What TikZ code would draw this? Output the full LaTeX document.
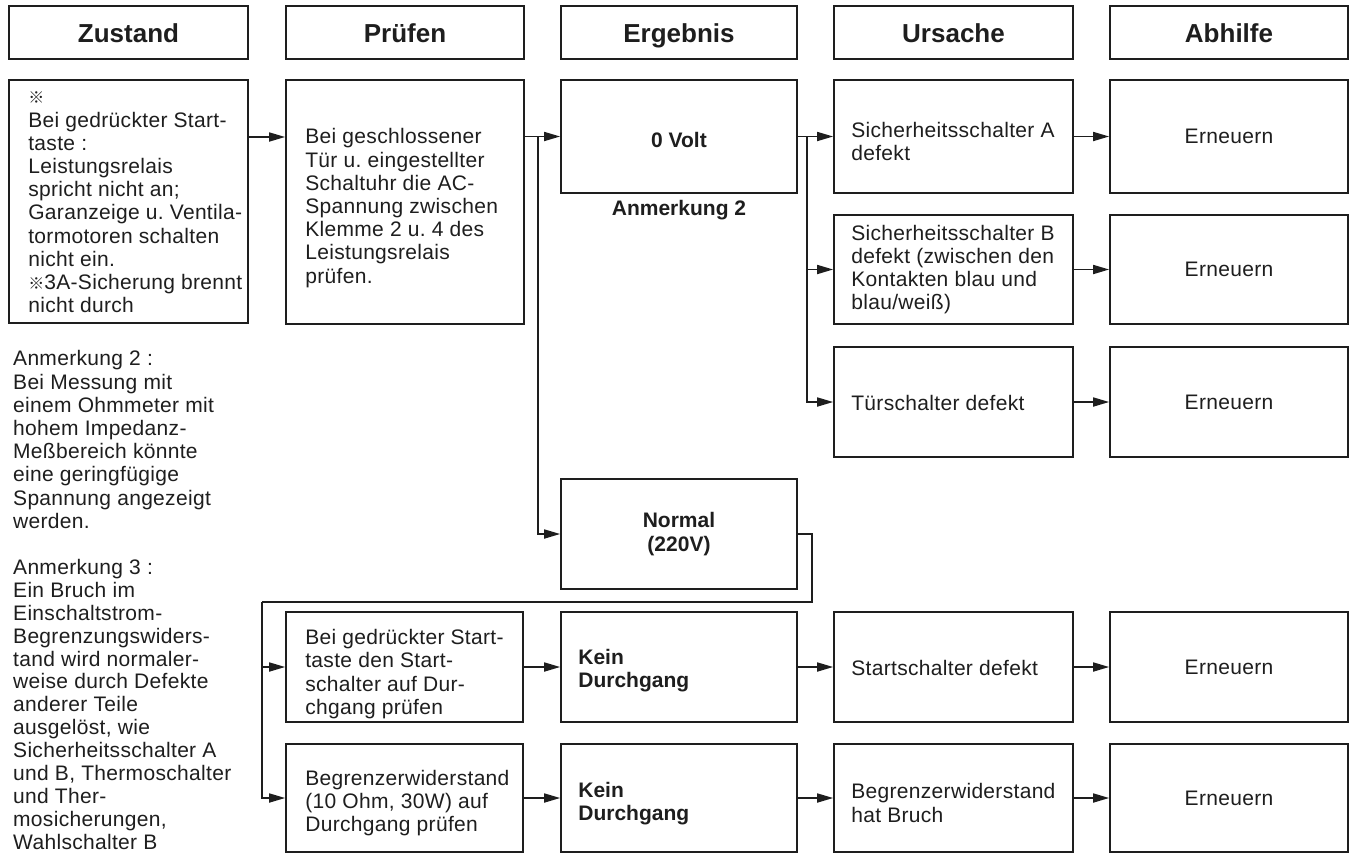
\documentclass[tikz,border=0pt]{standalone}
\usepackage{fontspec}
\setmainfont{Liberation Sans}[LetterSpace=1.5]
\newfontfamily\plainsans{Liberation Sans}
\newfontfamily\cjk{Noto Sans CJK JP}
\usetikzlibrary{arrows.meta,calc}
\definecolor{ink}{HTML}{1E1E1E}
\frenchspacing
\newcommand\txtf{\frenchspacing\fontsize{21}{23.2}\selectfont}
\newcommand\bff{\plainsans\bfseries\fontsize{21}{23.2}\selectfont}
\newcommand\hdff{\plainsans\bfseries\fontsize{26}{30}\selectfont}
\newcommand\refmark{{\cjk\fontsize{16}{16}\selectfont ※}}
\begin{document}
\begin{tikzpicture}[x=1pt,y=-1pt,
  hdr/.style={draw=ink, line width=2.6pt, inner sep=0pt, minimum height=53pt, font=\hdff, text=ink, text height=19pt, text depth=0pt},
  box/.style={draw=ink, line width=1.7pt, inner sep=0pt, font=\txtf, text=ink, align=center},
  tx/.style={anchor=west, inner sep=0pt, align=left, font=\txtf, text=ink},
  arr/.style={draw=ink, line width=1.7pt, -{Triangle[length=16pt,width=9pt]}},
  ln/.style={draw=ink, line width=1.7pt},
  note/.style={anchor=north west, inner sep=0pt, align=left, font=\txtf, text=ink}
]
\useasboundingbox (0,0) rectangle (1349,854);
\fill[white] (0,0) rectangle (1349,854);

% headers
\node[hdr, minimum width=239pt] (hz) at (128.5,32.5) {Zustand};
\node[hdr, minimum width=238pt] (hp) at (405,32.5) {Prüfen};
\node[hdr, minimum width=236pt] (he) at (679,32.5) {Ergebnis};
\node[hdr, minimum width=239pt] (hu) at (953.5,32.5) {Ursache};
\node[hdr, minimum width=238pt] (ha) at (1229,32.5) {Abhilfe};

% row 1 boxes
\node[box, minimum width=239pt, minimum height=243pt] (zu) at (128.5,201.5) {};
\node[tx] (zu-t) at ($(zu.west)+(20,1)$)
  {\refmark\\Bei gedrückter Start-\\taste :\\Leistungsrelais\\spricht nicht an;\\Garanzeige u. Ventila-\\tormotoren schalten\\nicht ein.\\\refmark3A-Sicherung brennt\\nicht durch};
\node[box, minimum width=238pt, minimum height=244pt] (pr) at (405,202) {};
\node[tx] (pr-t) at ($(pr.west)+(20,6)$)
  {Bei geschlossener\\Tür u. eingestellter\\Schaltuhr die AC-\\Spannung zwischen\\Klemme 2 u. 4 des\\Leistungsrelais\\prüfen.};
\node[box, minimum width=236pt, minimum height=113pt] (ov) at (679,136.5) {};
\node[font=\bff, text=ink, inner sep=0pt] (ov-t) at ($(ov.center)+(0,3)$) {0 Volt};
\node[font=\bff, text=ink, inner sep=0pt] (an2) at (679,210) {Anmerkung 2};
\node[box, minimum width=239pt, minimum height=113pt] (ua) at (953.5,136.5) {};
\node[tx] (ua-t) at ($(ua.west)+(18,5)$) {Sicherheitsschalter A\\defekt};
\node[box, minimum width=238pt, minimum height=113pt] (aa) at (1229,136.5) {Erneuern};
\node[box, minimum width=239pt, minimum height=109pt] (ub) at (953.5,269.5) {};
\node[tx] (ub-t) at ($(ub.west)+(18,0)$) {Sicherheitsschalter B\\defekt (zwischen den\\Kontakten blau und\\blau/weiß)};
\node[box, minimum width=238pt, minimum height=109pt] (ab) at (1229,269.5) {Erneuern};
\node[box, minimum width=239pt, minimum height=110pt] (ut) at (953.5,402) {};
\node[tx] (ut-t) at ($(ut.west)+(18,1)$) {Türschalter defekt};
\node[box, minimum width=238pt, minimum height=110pt] (at) at (1229,402) {Erneuern};
\node[box, minimum width=236pt, minimum height=110pt, font=\bff] (no) at (679,534) {Normal\\(220V)};

% lower rows
\node[box, minimum width=237pt, minimum height=110pt] (p2) at (404.5,667) {};
\node[tx] (p2-t) at ($(p2.west)+(20,7)$) {Bei gedrückter Start-\\taste den Start-\\schalter auf Dur-\\chgang prüfen};
\node[box, minimum width=236pt, minimum height=110pt] (k1) at (679,667) {};
\node[tx, font=\bff] (k1-t) at ($(k1.west)+(18,4)$) {Kein\\Durchgang};
\node[box, minimum width=239pt, minimum height=110pt] (us) at (953.5,667) {};
\node[tx] (us-t) at ($(us.west)+(18,1)$) {Startschalter defekt};
\node[box, minimum width=238pt, minimum height=110pt] (as) at (1229,667) {Erneuern};
\node[box, minimum width=237pt, minimum height=108pt] (p3) at (404.5,798) {};
\node[tx] (p3-t) at ($(p3.west)+(20,5)$) {Begrenzerwiderstand\\(10 Ohm, 30W) auf\\Durchgang prüfen};
\node[box, minimum width=236pt, minimum height=108pt] (k2) at (679,798) {};
\node[tx, font=\bff] (k2-t) at ($(k2.west)+(18,6)$) {Kein\\Durchgang};
\node[box, minimum width=239pt, minimum height=108pt] (ug) at (953.5,798) {};
\node[tx] (ug-t) at ($(ug.west)+(18,5)$) {Begrenzerwiderstand\\hat Bruch};
\node[box, minimum width=238pt, minimum height=108pt] (ag) at (1229,798) {Erneuern};

% notes
\node[note] (n2) at (13,350.5)
  {Anmerkung 2 :\\Bei Messung mit\\einem Ohmmeter mit\\hohem Impedanz-\\Meßbereich könnte\\eine geringfügige\\Spannung angezeigt\\werden.};
\node[note, font=\frenchspacing\fontsize{21}{22.9}\selectfont] (n3) at (13,559)
  {Anmerkung 3 :\\Ein Bruch im\\Einschaltstrom-\\Begrenzungswiders-\\tand wird normaler-\\weise durch Defekte\\anderer Teile\\ausgelöst, wie\\Sicherheitsschalter A\\und B, Thermoschalter\\und Ther-\\mosicherungen,\\Wahlschalter B};

% connectors
\coordinate (r1) at (0,137);
\draw[arr] (zu.east |- r1) -- (pr.west |- r1);
\draw[arr] (pr.east |- ov.west) -- (ov.west);
\coordinate (j1) at (538,136.5);
\draw[arr] (j1) |- (no.west);
\coordinate (j2) at (807,136.5);
\draw[arr] (ov.east) -- (ua.west);
\draw[arr] (j2) |- (ub.west);
\draw[arr] (j2) |- (ut.west);
\draw[arr] (ua.east) -- (aa.west);
\draw[arr] (ub.east) -- (ab.west);
\draw[arr] (ut.east) -- (at.west);
\coordinate (c1) at (812,602);
\coordinate (c2) at (262,602);
\draw[ln] (no.east) -| (c1) -- (c2);
\draw[arr] (c2) |- (p2.west);
\draw[arr] (c2) |- (p3.west);
\draw[arr] (p2.east) -- (k1.west);
\draw[arr] (k1.east) -- (us.west);
\draw[arr] (us.east) -- (as.west);
\draw[arr] (p3.east) -- (k2.west);
\draw[arr] (k2.east) -- (ug.west);
\draw[arr] (ug.east) -- (ag.west);
\end{tikzpicture}
\end{document}
